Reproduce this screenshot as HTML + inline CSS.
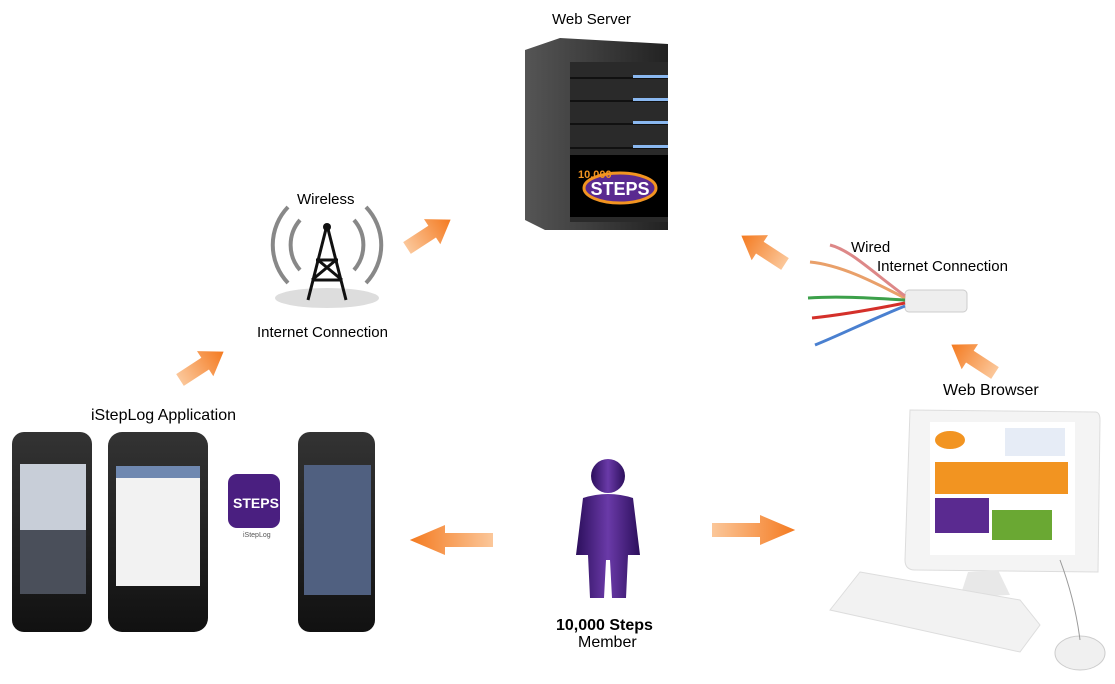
<!DOCTYPE html>
<html><head><meta charset="utf-8"><style>
body{margin:0;background:#fff;width:1115px;height:684px;overflow:hidden;font-family:"Liberation Sans",sans-serif}
svg{position:absolute;left:0;top:0}
</style></head><body>
<svg width="1115" height="684" viewBox="0 0 1115 684">
<defs>
<linearGradient id="ar" x1="0" x2="1"><stop offset="0" stop-color="#fbc79a"/><stop offset="1" stop-color="#f47a20"/></linearGradient>
<linearGradient id="srv" x1="0" x2="1"><stop offset="0" stop-color="#555"/><stop offset="1" stop-color="#222"/></linearGradient>
<linearGradient id="ph" x1="0" x2="0" y1="0" y2="1"><stop offset="0" stop-color="#333"/><stop offset="1" stop-color="#111"/></linearGradient>
<linearGradient id="pu" x1="0" x2="1"><stop offset="0" stop-color="#2c0f5c"/><stop offset=".5" stop-color="#6a3aa8"/><stop offset="1" stop-color="#2c0f5c"/></linearGradient>
<g id="arrow"><polygon points="0,-7 30,-7 30,-15 52,0 30,15 30,7 0,7" fill="url(#ar)"/></g>
</defs>
<g font-size="15" fill="#000">
<text x="552" y="24">Web Server</text>
<text x="297" y="204">Wireless</text>
<text x="257" y="337">Internet Connection</text>
<text x="91" y="420" font-size="16">iStepLog Application</text>
<text x="851" y="252">Wired</text>
<text x="877" y="271">Internet Connection</text>
<text x="943" y="395" font-size="16">Web Browser</text>
<text x="556" y="630" font-size="16" font-weight="bold">10,000 Steps</text>
<text x="578" y="647" font-size="16">Member</text>
<text x="243" y="537" font-size="7" fill="#555">iStepLog</text>
</g>
<!-- server -->
<polygon points="525,50 560,38 668,44 668,230 545,230 525,220" fill="url(#srv)"/>
<rect x="570" y="62" width="98" height="160" fill="#2a2a2a"/>
<g stroke="#111" stroke-width="2"><line x1="570" y1="78" x2="668" y2="78"/><line x1="570" y1="101" x2="668" y2="101"/><line x1="570" y1="124" x2="668" y2="124"/><line x1="570" y1="148" x2="668" y2="148"/></g>
<g fill="#8ab8f0"><rect x="633" y="75" width="35" height="3"/><rect x="633" y="98" width="35" height="3"/><rect x="633" y="121" width="35" height="3"/><rect x="633" y="145" width="35" height="3"/></g>
<rect x="570" y="155" width="98" height="62" fill="#000"/>
<ellipse cx="620" cy="188" rx="36" ry="15" fill="#5a2a90" stroke="#f29421" stroke-width="3"/>
<text x="620" y="195" font-size="18" font-weight="bold" fill="#fff" text-anchor="middle">STEPS</text>
<text x="578" y="178" font-size="11" fill="#f29421" font-weight="bold">10,000</text>
<!-- tower -->
<ellipse cx="327" cy="298" rx="52" ry="10" fill="#ddd"/>
<g stroke="#888" stroke-width="4" fill="none">
<path d="M300,220 A38,38 0 0 0 300,270"/><path d="M354,220 A38,38 0 0 1 354,270"/>
<path d="M288,207 A55,55 0 0 0 288,283"/><path d="M366,207 A55,55 0 0 1 366,283"/></g>
<g stroke="#111" stroke-width="3" fill="none"><path d="M327,225 L308,300 M327,225 L346,300 M316,260 L338,260 M312,280 L342,280 M318,260 L342,280 M336,260 L312,280"/></g>
<circle cx="327" cy="227" r="4" fill="#111"/>
<!-- arrows -->
<use href="#arrow" transform="translate(407,248) rotate(-33)"/>
<use href="#arrow" transform="translate(180,380) rotate(-33)"/>
<use href="#arrow" transform="translate(493,540) rotate(180) scale(1.6,1)"/>
<use href="#arrow" transform="translate(712,530) scale(1.6,1)"/>
<use href="#arrow" transform="translate(785,264) rotate(213)"/>
<use href="#arrow" transform="translate(995,373) rotate(213)"/>
<!-- cable -->
<rect x="905" y="290" width="62" height="22" rx="4" fill="#eee" stroke="#ccc"/>
<g stroke-width="3" fill="none">
<path d="M905,298 C870,280 840,265 810,262" stroke="#e9a06a"/>
<path d="M905,300 C870,298 840,296 808,298" stroke="#3ca04a"/>
<path d="M905,303 C870,310 840,315 812,318" stroke="#d4302a"/>
<path d="M905,306 C870,320 840,335 815,345" stroke="#4a80d0"/>
<path d="M905,296 C870,270 850,250 830,245" stroke="#d88" /></g>
<!-- phones -->
<rect x="12" y="432" width="80" height="200" rx="12" fill="url(#ph)"/>
<rect x="20" y="464" width="66" height="130" fill="#c8ced8"/>
<rect x="20" y="530" width="66" height="64" fill="#4a4f5a"/>
<rect x="108" y="432" width="100" height="200" rx="14" fill="url(#ph)"/>
<rect x="116" y="466" width="84" height="120" fill="#f2f2f2"/>
<rect x="116" y="466" width="84" height="12" fill="#6f88b0"/>
<rect x="298" y="432" width="77" height="200" rx="12" fill="url(#ph)"/>
<rect x="304" y="465" width="67" height="130" fill="#506080"/>
<rect x="228" y="474" width="52" height="54" rx="9" fill="#4a1f80"/>
<text x="233" y="508" font-size="14" font-weight="bold" fill="#fff">STEPS</text>
<!-- person -->
<circle cx="608" cy="476" r="17" fill="url(#pu)"/>
<path d="M583,498 Q608,490 633,498 L640,555 L628,555 L626,598 L612,598 L610,560 L606,560 L604,598 L590,598 L588,555 L576,555 Z" fill="url(#pu)"/>
<!-- computer -->
<path d="M910,410 L1095,412 Q1100,412 1100,420 L1098,572 L915,570 Q905,570 905,560 Z" fill="#f4f4f4" stroke="#ddd"/>
<rect x="930" y="422" width="145" height="133" fill="#fff"/>
<rect x="935" y="462" width="133" height="32" fill="#f29421"/>
<rect x="935" y="498" width="54" height="35" fill="#5a2a90"/>
<rect x="992" y="510" width="60" height="30" fill="#6aa833"/>
<ellipse cx="950" cy="440" rx="15" ry="9" fill="#f29421"/>
<rect x="1005" y="428" width="60" height="28" fill="#e6ecf6"/>
<path d="M998,570 L1010,595 L960,597 L968,572Z" fill="#e8e8e8"/>
<path d="M860,572 L1020,600 L1040,625 L1020,652 L830,610 Z" fill="#f2f2f2" stroke="#ddd"/>
<ellipse cx="1080" cy="653" rx="25" ry="17" fill="#f0f0f0" stroke="#ccc"/>
<path d="M1060,560 Q1075,600 1080,640" stroke="#999" fill="none"/>
</svg>
</body></html>
